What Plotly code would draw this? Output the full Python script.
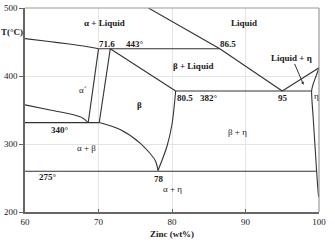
import plotly.graph_objects as go

# ---- data (x = Zinc wt%, y = T in °C) ----
liq_alpha_x = [60, 63, 66, 68.5, 70.0]
liq_alpha_y = [455, 451, 447, 443, 440]

perit_443_x = [70.0, 86.5]
perit_443_y = [440, 440]

liq_upper_x = [76.8, 86.5]
liq_upper_y = [500, 440]

liq_beta_x = [86.5, 95.0]
liq_beta_y = [440, 378]

liq_eta_x = [95.0, 100.0]
liq_eta_y = [378, 412]

eutect_382_x = [80.5, 99.0]
eutect_382_y = [378, 378]

beta_liq_x = [71.6, 80.5]
beta_liq_y = [440, 378]

alpha_p_left_x = [70.0, 68.6]
alpha_p_left_y = [440, 331.5]

alpha_p_right_x = [71.6, 70.1]
alpha_p_right_y = [440, 331.5]

eutd_340_x = [60, 70.1]
eutd_340_y = [331.5, 331.5]

alpha_solvus_x = [60, 63.4, 66.6, 67.9, 68.6]
alpha_solvus_y = [357.6, 350, 343, 338, 331.5]

beta_left_x = [70.1, 73.0, 75.7, 77.7, 78.1]
beta_left_y = [331.5, 321, 301, 276, 261]

beta_right_x = [80.5, 80.0, 79.3, 78.1]
beta_right_y = [378, 329, 296, 261]

eutd_275_x = [60, 99.65]
eutd_275_y = [260, 260]

eta_solvus_x = [100.0, 99.6, 99.15, 99.0, 99.2, 99.5, 99.8, 99.95]
eta_solvus_y = [412, 400, 386, 378, 340, 290, 240, 222]

x_ticks = [60, 70, 80, 90, 100]
y_ticks = [200, 300, 400, 500]

# labels: (text, x, y, bold)
labels = [
    ("α + Liquid", 70.8, 478, True),
    ("Liquid", 89.8, 478, True),
    ("71.6", 71.2, 447.5, True),
    ("443°", 75.0, 447.5, True),
    ("86.5", 87.6, 447.5, True),
    ("β + Liquid", 82.8, 414, True),
    ("Liquid + η", 96.2, 427, True),
    ("α´", 67.9, 380, False),
    ("β", 75.6, 357, True),
    ("80.5", 81.8, 368, True),
    ("382°", 85.1, 368, True),
    ("95", 95.1, 368, True),
    ("η", 99.6, 370, False),
    ("β + η", 88.9, 318, False),
    ("340°", 64.8, 320, True),
    ("α + β", 68.3, 293.5, False),
    ("275°", 63.1, 251, True),
    ("78", 78.2, 248, True),
    ("α + η", 80.1, 234.5, False),
]

curves = [
    (liq_alpha_x, liq_alpha_y, "spline"),
    (perit_443_x, perit_443_y, "linear"),
    (liq_upper_x, liq_upper_y, "linear"),
    (liq_beta_x, liq_beta_y, "linear"),
    (liq_eta_x, liq_eta_y, "linear"),
    (eutect_382_x, eutect_382_y, "linear"),
    (beta_liq_x, beta_liq_y, "linear"),
    (alpha_p_left_x, alpha_p_left_y, "linear"),
    (alpha_p_right_x, alpha_p_right_y, "linear"),
    (eutd_340_x, eutd_340_y, "linear"),
    (alpha_solvus_x, alpha_solvus_y, "spline"),
    (beta_left_x, beta_left_y, "spline"),
    (beta_right_x, beta_right_y, "spline"),
    (eutd_275_x, eutd_275_y, "linear"),
    (eta_solvus_x, eta_solvus_y, "spline"),
]

fig = go.Figure()
for cx, cy, shape in curves:
    fig.add_trace(go.Scatter(
        x=cx, y=cy, mode="lines",
        line=dict(color="#333333", width=1.1, shape=shape, smoothing=0.8),
        showlegend=False, hoverinfo="skip", cliponaxis=False))

FONT = "Liberation Serif"
TXT = "#1a1a1a"
for text, lx, ly, bold in labels:
    fig.add_annotation(
        x=lx, y=ly, xref="x", yref="y",
        text=f"<b>{text}</b>" if bold else text,
        showarrow=False, font=dict(family=FONT, size=9, color=TXT))

# arrow from "Liquid + η" label into the narrow region
fig.add_annotation(
    x=97.9, y=387, ax=96.6, ay=420, xref="x", yref="y", axref="x", ayref="y",
    text="", showarrow=True, arrowhead=2, arrowsize=0.6, arrowwidth=1,
    arrowcolor="#333333")

# y axis title placed at top-left, outside the plot
fig.add_annotation(
    x=0, y=464, xref="paper", yref="y", xanchor="right",
    text="<b>T(°C)</b>", showarrow=False,
    font=dict(family=FONT, size=9, color=TXT))

fig.update_layout(
    width=335, height=244,
    margin=dict(l=25, r=16, t=8, b=32),
    paper_bgcolor="white", plot_bgcolor="white",
    xaxis=dict(
        range=[60, 100], tickvals=x_ticks, ticktext=[str(v) for v in x_ticks],
        showgrid=True, gridcolor="#e4e4e4", gridwidth=1, automargin=False,
        showline=True, linecolor="#666666", linewidth=1.5, mirror=False,
        ticks="inside", ticklen=3, tickcolor="#666666", zeroline=False,
        tickfont=dict(family=FONT, size=9, color=TXT),
        title=dict(text="<b>Zinc (wt%)</b>", standoff=5,
                   font=dict(family=FONT, size=9, color=TXT)),
    ),
    yaxis=dict(
        range=[200, 500], tickvals=y_ticks, ticktext=[str(v) for v in y_ticks],
        showgrid=True, gridcolor="#e4e4e4", gridwidth=1, automargin=False,
        showline=True, linecolor="#666666", linewidth=1.5, mirror=False,
        ticks="outside", ticklen=4, tickcolor="#666666", zeroline=False,
        tickfont=dict(family=FONT, size=9, color=TXT),
    ),
)

# top and right frame lines (lighter gray)
fig.add_shape(type="line", xref="paper", yref="paper", x0=0, x1=1, y0=1, y1=1,
              line=dict(color="#999999", width=1.2))
fig.add_shape(type="line", xref="paper", yref="paper", x0=1, x1=1, y0=0, y1=1,
              line=dict(color="#999999", width=1.2))

fig.write_html(
    "out.html",
    config={"displayModeBar": False},
    post_script="document.body.style.margin='0';document.body.style.overflow='hidden';")
